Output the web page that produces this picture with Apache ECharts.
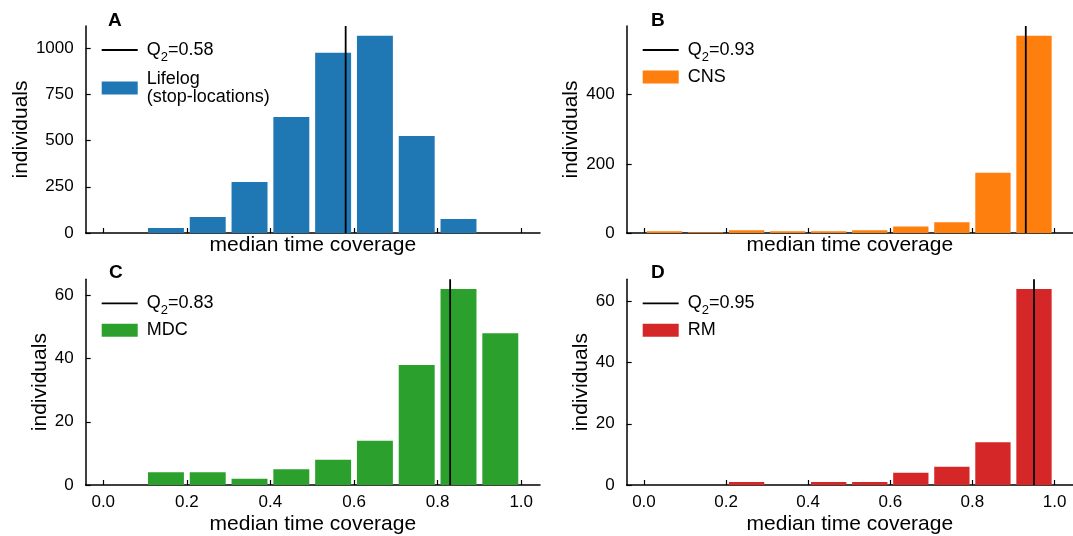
<!DOCTYPE html>
<html>
<head>
<meta charset="utf-8">
<title>median time coverage</title>
<script src="https://cdn.jsdelivr.net/npm/echarts@6/dist/echarts.min.js"></script>
<style>
    html, body { margin: 0; padding: 0; background: #fff; }
    #chart { width: 1073px; height: 536px; }
</style>
</head>
<body>
<div id="chart"></div>
<script>
// histogram bins (10 bins over [0, 1])
const binEdges = [0, 0.1, 0.2, 0.3, 0.4, 0.5, 0.6, 0.7, 0.8, 0.9, 1.0];

// counts per bin
const lifelogCounts = [0, 27, 87, 276, 628, 975, 1067, 525, 76, 0];
const cnsCounts = [5, 2, 8, 5, 5, 8, 19, 31, 174, 570];
const mdcCounts = [0, 4, 4, 2, 5, 8, 14, 38, 62, 48];
const rmCounts = [0, 0, 1, 0, 1, 1, 4, 6, 14, 64];

// medians
const medians = [0.58, 0.93, 0.83, 0.95];

// labels
const panelLetters = ['A', 'B', 'C', 'D'];
const datasetNames = ['Lifelog\n(stop-locations)', 'CNS', 'MDC', 'RM'];
const xTicks = [0, 0.2, 0.4, 0.6, 0.8, 1.0];
const yTicksA = [0, 250, 500, 750, 1000];
const yTicksB = [0, 200, 400];
const yTicksC = [0, 20, 40, 60];
const yTicksD = [0, 20, 40, 60];

document.addEventListener('DOMContentLoaded', function() {
    const chart = echarts.init(document.getElementById('chart'), null, { renderer: 'canvas' });

    const font = "'Liberation Sans', Arial, sans-serif";
    const colors = ['#1f77b4', '#ff7f0e', '#2ca02c', '#d62728'];
    const allCounts = [lifelogCounts, cnsCounts, mdcCounts, rmCounts];
    const allYTicks = [yTicksA, yTicksB, yTicksC, yTicksD];
    const rwidth = 0.86;

    // panel placement
    const grids = [
        { left: 85.7, top: 26, width: 454.3, height: 207 },
        { left: 626.7, top: 26, width: 454, height: 207 },
        { left: 85.7, top: 279.3, width: 454.3, height: 206.7 },
        { left: 626.7, top: 279.3, width: 454, height: 206.7 }
    ];
    const yNameGaps = [47, 45, 34, 35];
    const letterPos = [[108, 11], [651, 11], [109, 263], [651, 263]];
    const legendGaps = [6, 4, 4, 4];

    function renderBar(params, api) {
        const x0 = api.value(0);
        const x1 = api.value(1);
        const c = api.value(2);
        const pad = (x1 - x0) * (1 - rwidth) / 2;
        const p0 = api.coord([x0 + pad, c]);
        const p1 = api.coord([x1 - pad, 0]);
        return {
            type: 'rect',
            shape: { x: p0[0], y: p0[1], width: p1[0] - p0[0], height: p1[1] - p0[1] },
            style: api.style()
        };
    }

    const xAxes = [], yAxes = [], series = [], legends = [], titles = [];

    allCounts.forEach((counts, i) => {
        const yMax = Math.max.apply(null, counts) * 1.05;
        const bottomRow = i >= 2;
        const medName = 'Q2=' + medians[i].toFixed(2);

        xAxes.push({
            type: 'value',
            gridIndex: i,
            min: -0.042,
            max: 1.045,
            name: 'median time coverage',
            nameLocation: 'middle',
            nameGap: bottomRow ? 29 : 2,
            nameTextStyle: { fontFamily: font, fontSize: 21, color: '#000' },
            axisLine: { show: true, onZero: false, lineStyle: { color: '#000', width: 1.5 } },
            axisTick: { show: true, inside: true, length: 5, customValues: xTicks, lineStyle: { color: '#000', width: 1.2 } },
            axisLabel: {
                show: bottomRow,
                customValues: xTicks,
                margin: 9,
                fontFamily: font,
                fontSize: 17,
                color: '#000',
                formatter: v => v.toFixed(1)
            },
            splitLine: { show: false }
        });

        yAxes.push({
            type: 'value',
            gridIndex: i,
            min: 0,
            max: yMax,
            name: 'individuals',
            nameLocation: 'middle',
            nameGap: yNameGaps[i],
            nameTextStyle: { fontFamily: font, fontSize: 21, color: '#000' },
            axisLine: { show: true, onZero: false, lineStyle: { color: '#000', width: 1.5 } },
            axisTick: { show: true, inside: true, length: 5, customValues: allYTicks[i], lineStyle: { color: '#000', width: 1.2 } },
            axisLabel: {
                customValues: allYTicks[i],
                margin: 12,
                fontFamily: font,
                fontSize: 17,
                color: '#000',
                formatter: v => String(v)
            },
            splitLine: { show: false }
        });

        const barData = counts.map((c, k) => [binEdges[k], binEdges[k + 1], c]);

        series.push({
            type: 'custom',
            name: datasetNames[i],
            xAxisIndex: i,
            yAxisIndex: i,
            renderItem: renderBar,
            encode: { x: [0, 1], y: 2 },
            itemStyle: { color: colors[i] },
            data: barData,
            silent: true,
            z: 2
        });

        series.push({
            type: 'line',
            name: medName,
            xAxisIndex: i,
            yAxisIndex: i,
            data: [[medians[i], 0], [medians[i], yMax]],
            symbol: 'none',
            itemStyle: { color: '#000' },
            lineStyle: { color: '#000', width: 1.8 },
            silent: true,
            z: 3
        });

        legends.push({
            orient: 'vertical',
            left: grids[i].left + 16,
            top: grids[i].top + 10,
            padding: 0,
            itemGap: legendGaps[i],
            itemWidth: 36,
            itemHeight: 13,
            selectedMode: false,
            data: [
                { name: medName, icon: 'path://M0,0L36,0L36,1.8L0,1.8Z' },
                { name: datasetNames[i], icon: 'rect' }
            ],
            formatter: function(name) {
                if (name.indexOf('Q2=') === 0) {
                    return '{q|Q}{s|2}{q|' + name.slice(2) + '}';
                }
                return name;
            },
            textStyle: {
                fontFamily: font,
                fontSize: 18,
                lineHeight: 18,
                color: '#000',
                padding: [0, 0, 0, 4],
                rich: {
                    q: { fontFamily: font, fontSize: 18, lineHeight: 18, color: '#000' },
                    s: { fontFamily: font, fontSize: 13, lineHeight: 1, padding: [15, 0, 0, 0], color: '#000' }
                }
            }
        });

        titles.push({
            text: panelLetters[i],
            left: letterPos[i][0],
            top: letterPos[i][1],
            padding: 0,
            textStyle: { fontFamily: font, fontSize: 19, fontWeight: 'bold', color: '#000' }
        });
    });

    const option = {
        animation: false,
        backgroundColor: '#fff',
        title: titles,
        grid: grids,
        xAxis: xAxes,
        yAxis: yAxes,
        legend: legends,
        series: series
    };
    chart.setOption(option);

    window.addEventListener('resize', function() {
        chart.resize();
    });
});
</script>
</body>
</html>
